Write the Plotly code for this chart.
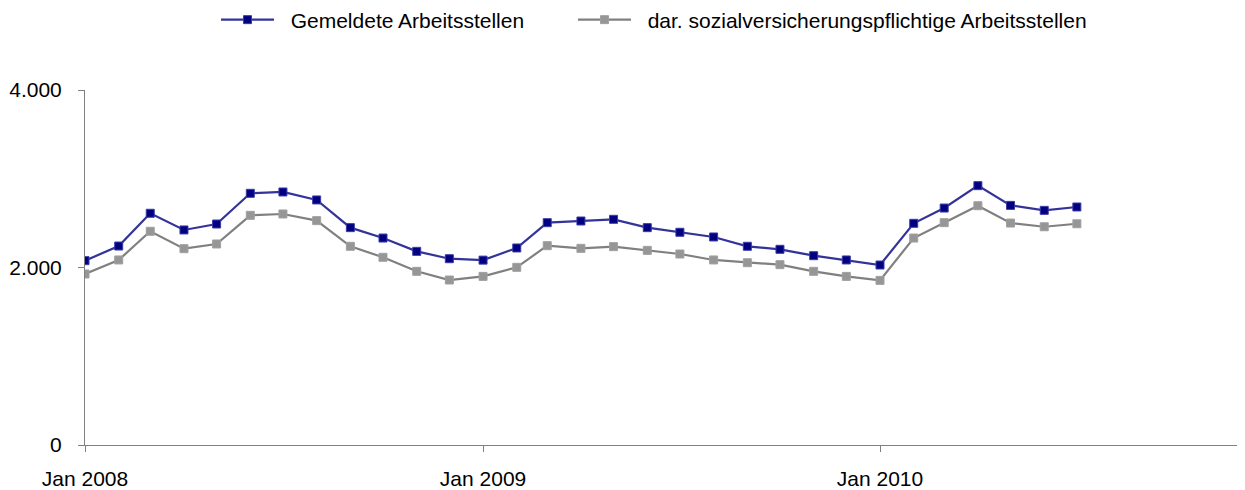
import plotly.graph_objects as go
import pandas as pd

months = pd.date_range("2008-01-01", "2010-07-01", freq="MS").strftime("%Y-%m-%d").tolist()

gemeldete = [2077, 2242, 2611, 2423, 2490, 2836, 2851, 2761, 2449, 2332, 2182, 2099,
             2083, 2220, 2505, 2524, 2543, 2449, 2397, 2344, 2239, 2205, 2133, 2085,
             2028, 2498, 2670, 2922, 2700, 2644, 2682]
svpflichtig = [1927, 2085, 2408, 2212, 2265, 2588, 2603, 2528, 2239, 2115, 1957, 1859,
               1900, 2002, 2246, 2216, 2235, 2193, 2152, 2085, 2054, 2032, 1957, 1900,
               1855, 2332, 2505, 2696, 2501, 2459, 2493]

series_names = ["Gemeldete Arbeitsstellen", "dar. sozialversicherungspflichtige Arbeitsstellen"]

tick_vals = ["2008-01-01", "2009-01-01", "2010-01-01"]
tick_text = ["Jan 2008", "Jan 2009", "Jan 2010"]

# the HTML body has an 8px default margin, so the figure is sized 8px smaller
OFF = 8
PAD = "\u00a0\u00a0"  # small gap between legend symbol and text

fig = go.Figure()
fig.add_trace(go.Scatter(
    x=months, y=gemeldete, mode="lines+markers", name=PAD + series_names[0],
    line=dict(color="#333399", width=2.2),
    marker=dict(symbol="square", size=8, color="#000080", line=dict(color="#3a3aa8", width=1)),
    legend="legend",
))
fig.add_trace(go.Scatter(
    x=months, y=svpflichtig, mode="lines+markers", name=PAD + series_names[1],
    line=dict(color="#808080", width=2.2),
    marker=dict(symbol="square", size=8, color="#969696", line=dict(color="#a0a0a0", width=1)),
    legend="legend2",
))

plot_w = 1240 - 85
H = 490 - OFF
leg_common = dict(orientation="h", xanchor="left", y=1 - 12 / H, yref="container", yanchor="middle",
                  font=dict(size=21), itemwidth=53, bgcolor="rgba(0,0,0,0)")

fig.update_layout(
    width=1245 - OFF, height=H,
    margin=dict(l=85 - OFF, r=5, t=90 - OFF, b=45),
    paper_bgcolor="white", plot_bgcolor="white",
    separators=",.",
    font=dict(family="Liberation Sans, Arial, sans-serif", size=21, color="black"),
    showlegend=True,
    legend=dict(x=(216 - 85) / plot_w, **leg_common),
    legend2=dict(x=(573 - 85) / plot_w, **leg_common),
    xaxis=dict(
        type="date", range=["2008-01-01", "2010-11-28"],
        tickvals=tick_vals, ticktext=tick_text, automargin=False,
        showgrid=False, zeroline=False, showline=True, linecolor="#808080", linewidth=1,
        ticks="outside", ticklen=6, tickcolor="#808080",
        ticklabelstandoff=9,
    ),
    yaxis=dict(
        range=[0, 4000], tickvals=[0, 2000, 4000], tickformat=",d", automargin=False,
        showgrid=False, zeroline=False, showline=True, linecolor="#808080", linewidth=1,
        ticks="outside", ticklen=6, tickcolor="#808080",
        ticklabelstandoff=12,
    ),
)

fig.write_html("out.html")
